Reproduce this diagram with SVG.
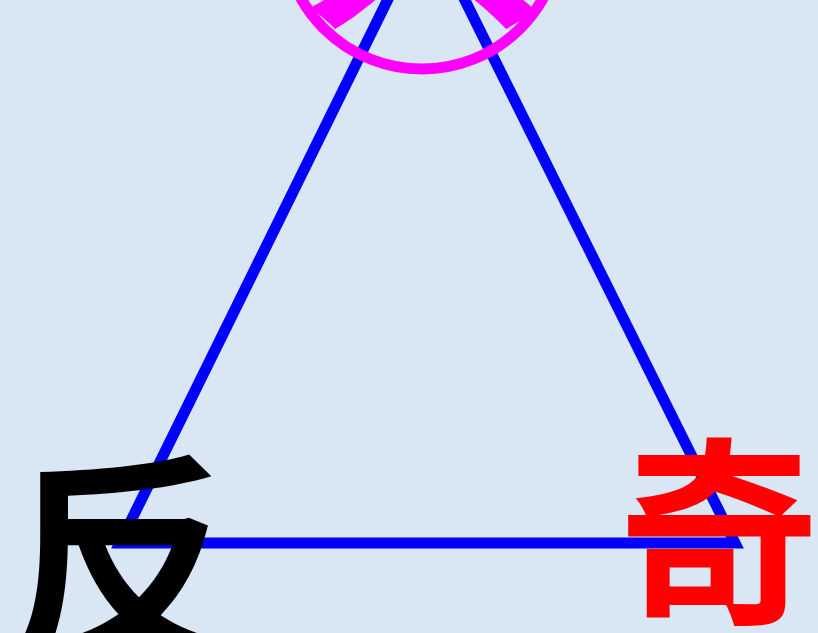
<svg xmlns="http://www.w3.org/2000/svg" width="818" height="633" viewBox="0 0 818 633">
<style>
.t{font-family:"Noto Sans CJK SC","Microsoft YaHei",sans-serif;font-weight:bold}
.edge{fill:none;stroke:#0000ff;stroke-width:11;stroke-linejoin:miter}
</style>
<rect width="818" height="633" fill="#d9e7f5"/>
<g id="connectors">
<polygon class="edge" points="120,543 426,-78 735,543"/>
</g>
<g id="apex">
<circle cx="422" cy="-70" r="139" fill="none" stroke="#ff00ff" stroke-width="11"/>
<text class="t" x="423" y="6" font-size="250" fill="#ff00ff" text-anchor="middle">共</text>
</g>
<g id="fan"><text class="t" x="7" y="646" font-size="226" fill="#000">反</text></g>
<g id="qi"><text class="t" x="619" y="608" font-size="200" fill="#ff0000">奇</text></g>
</svg>
